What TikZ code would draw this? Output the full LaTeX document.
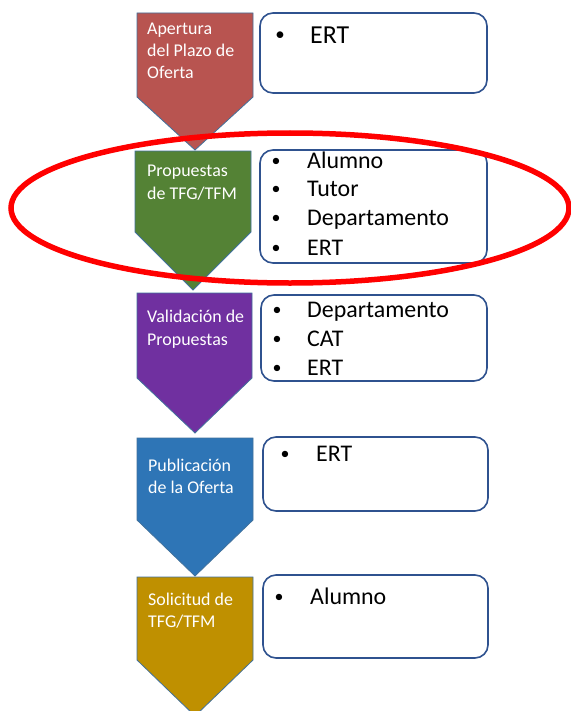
\documentclass[tikz,border=0pt]{standalone}
\usepackage{fontspec}
\setmainfont{Carlito}
\definecolor{cred}{HTML}{B85450}
\definecolor{cgreen}{HTML}{548235}
\definecolor{cpurple}{HTML}{7030A0}
\definecolor{cblue}{HTML}{2E75B6}
\definecolor{cgold}{HTML}{BF9000}
\definecolor{edge}{HTML}{41719C}
\definecolor{boxedge}{HTML}{2F528F}
\tikzset{
  chev/.style={draw=edge, line width=0.8bp},
  chevtxt/.style={anchor=base west, inner sep=0, text=white, font=\fontsize{18}{21.7}\selectfont},
  listbox/.style={draw=boxedge, fill=white, line width=1.6bp, rounded corners=13bp},
  bul/.style={anchor=base, inner sep=0, font=\fontsize{18}{22}\selectfont, yshift=2bp},
  item/.style={anchor=base west, inner sep=0, font=\fontsize{24}{29}\selectfont},
  ring/.style={draw=red, line width=5.5bp}
}
\begin{document}
\begin{tikzpicture}[x=1bp, y=-1bp]
\clip (0,0) rectangle (571,711);
\fill[white] (0,0) rectangle (571,711);

% chevrons
\draw[chev, fill=cred]    (137,13)  -- (253,13)  -- (253,97)  -- (195,150) -- (137,97)  -- cycle;
\draw[chev, fill=cgreen]  (135,151) -- (251,151) -- (251,232) -- (193,290) -- (135,232) -- cycle;
\draw[chev, fill=cpurple] (137,293) -- (252,293) -- (252,378) -- (195,433) -- (137,378) -- cycle;
\draw[chev, fill=cblue]   (137,438) -- (253,438) -- (253,520) -- (195,576) -- (137,520) -- cycle;
\draw[chev, fill=cgold]   (137,577) -- (253,577) -- (253,660) -- (195,716) -- (137,660) -- cycle;

% chevron labels
\node[chevtxt] (c1a) at (147,35)    {Apertura};
\node[chevtxt] (c1b) at (147,56.7)  {del Plazo de};
\node[chevtxt] (c1c) at (147,78.3)  {Oferta};
\node[chevtxt] (c2a) at (147,176.7) {Propuestas};
\node[chevtxt] (c2b) at (147,199)   {de TFG/TFM};
\node[chevtxt] (c3a) at (147,322.7) {Validación de};
\node[chevtxt] (c3b) at (147,345)   {Propuestas};
\node[chevtxt] (c4a) at (148,471)   {Publicación};
\node[chevtxt] (c4b) at (148,493.3) {de la Oferta};
\node[chevtxt] (c5a) at (148,605.7) {Solicitud de};
\node[chevtxt] (c5b) at (148,627.7) {TFG/TFM};

% boxes
\draw[listbox] (260,13)  rectangle (487,93);
\draw[listbox] (260,150) rectangle (487,263);
\draw[listbox] (261,295) rectangle (487,381);
\draw[listbox] (263,437) rectangle (488,511);
\draw[listbox] (263,575) rectangle (488,658);

% box 1
\node[bul, font=\fontsize{19}{23}\selectfont, yshift=0.5bp] (b1) at (280,43.3) {•};
\node[item, font=\fontsize{26}{31}\selectfont] (t1) at (310,43.3) {ERT};
% box 2
\node[bul] (b2a) at (276,168.3) {•};
\node[item] (t2a) at (307,168.3) {Alumno};
\node[bul] (b2b) at (276,196.7) {•};
\node[item] (t2b) at (307,196.7) {Tutor};
\node[bul] (b2c) at (276,225) {•};
\node[item] (t2c) at (307,225) {Departamento};
\node[bul] (b2d) at (276,255) {•};
\node[item] (t2d) at (307,255) {ERT};
% box 3
\node[bul] (b3a) at (277,317.7) {•};
\node[item] (t3a) at (307,317.7) {Departamento};
\node[bul] (b3b) at (277,346.7) {•};
\node[item] (t3b) at (307,346.7) {CAT};
\node[bul] (b3c) at (277,375.7) {•};
\node[item] (t3c) at (307,375.7) {ERT};
% box 4
\node[bul] (b4) at (285,461) {•};
\node[item] (t4) at (316,461) {ERT};
% box 5
\node[bul] (b5) at (279,604.3) {•};
\node[item] (t5) at (310,604.3) {Alumno};

% red ellipse highlight
\draw[ring] (290,208) ellipse [x radius=279, y radius=75];
\end{tikzpicture}
\end{document}
